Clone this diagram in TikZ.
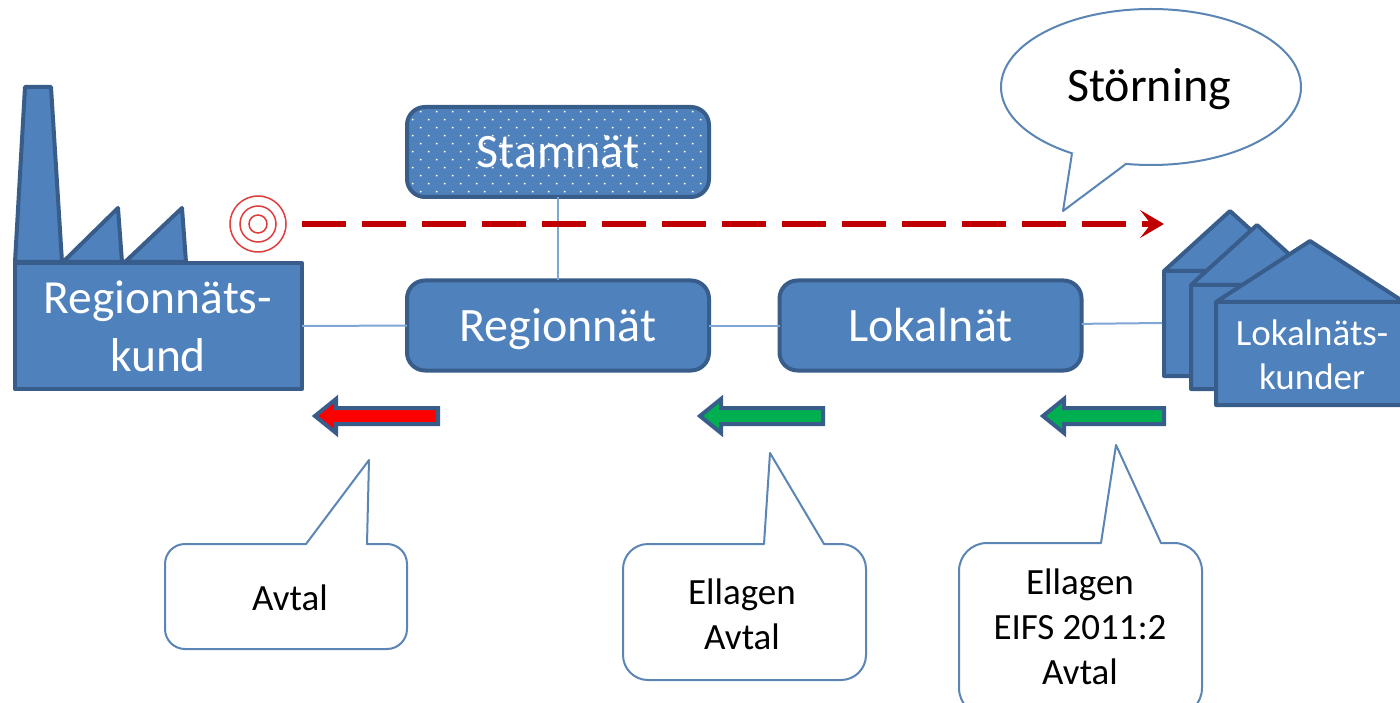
\documentclass[tikz,border=0pt]{standalone}
\usepackage{fontspec}
\usetikzlibrary{arrows.meta,shapes.geometric}
\setmainfont{Carlito}
\definecolor{netblue}{HTML}{4F81BD}
\definecolor{netedge}{HTML}{385D8A}
\definecolor{linkblue}{HTML}{7FA6D4}
\definecolor{noteline}{HTML}{5A85B4}
\definecolor{stormred}{HTML}{C00000}
\definecolor{ringred}{HTML}{E03C3C}
\definecolor{okgreen}{HTML}{00B050}
\begin{document}
\begin{tikzpicture}[x=1pt,y=-1pt,
  solid shape/.style={draw=netedge,fill=netblue,line width=4pt,line join=round},
  net node/.style={solid shape,rectangle,rounded corners=18pt,minimum width=302pt,minimum height=90pt,
    outer sep=0pt,text=white,text height=36pt,text depth=4pt,font=\fontsize{48}{58}\selectfont},
  customer/.style={text=white,align=center,inner sep=0pt,font=\fontsize{47.5}{58}\selectfont},
  note/.style={align=center,inner sep=0pt,font=\fontsize{37}{45}\selectfont},
  bubble/.style={draw=noteline,fill=white,line width=2pt,line join=round},
  link/.style={draw=linkblue,line width=2pt},
  ring/.style={circle,draw=ringred,line width=1.5pt,inner sep=0pt,outer sep=0pt}]

  \useasboundingbox (0,0) rectangle (1400,703);

  % factory
  \draw[solid shape] (15,262) -- (25,87) -- (51,87) -- (62,262) -- cycle;
  \draw[solid shape] (63,262) -- (118,208) -- (122,262) -- cycle;
  \draw[solid shape] (125,262) -- (182,208) -- (186,262) -- cycle;
  \node[solid shape,rectangle,minimum width=287pt,minimum height=126pt,outer sep=0pt] (kund) at (158.5,326) {};
  \node[customer] (kundtext) at (158,326) {Regionnäts-\\kund};

  % houses
  \foreach \l/\r/\t/\b/\ax/\ay in {1164/1296/271/376/1230/211,
    1191/1323/285/389/1257/225, 1216/1404/302/405/1310/241}
    \draw[solid shape] (\l,\t) -- (\ax,\ay) -- (\r,\t) -- (\r,\b) -- (\l,\b) -- cycle (\l,\t) -- (\r,\t);
  \node[customer,font=\fontsize{37}{44}\selectfont] (lokalkund) at (1312,355) {Lokalnäts-\\kunder};
  \coordinate (houseedge) at (1162,323);

  % grid
  \node[net node,path picture={
      \foreach \row in {0,...,10}
        \foreach \col in {0,...,19}
          \fill[white] ([shift={({5.7+8*mod(\row+1,2)+16*\col},{4.7+8*\row})}]path picture bounding box.north west) circle (1pt);
    }] (stamnat) at (558,152) {Stamnät};
  \node[net node] (regionnat) at (558,325.5) {Regionnät};
  \node[net node] (lokalnat) at (930.5,325.5) {Lokalnät};

  \draw[link] (stamnat) -- (regionnat);
  \draw[link] (kund) -- (regionnat);
  \draw[link] (regionnat) -- (lokalnat);
  \draw[link] (lokalnat) -- (houseedge);

  % target and disturbance
  \node[ring,minimum size=56pt] (target) at (258,224) {};
  \node[ring,minimum size=36pt] (targetmid) at (target) {};
  \node[ring,minimum size=18pt] (targetin) at (target) {};
  \coordinate (stormend) at (1164,224);
  \draw[draw=stormred,line width=5.5pt,dash pattern=on 44pt off 16pt,shorten <=16pt,
    -{Stealth[length=24pt,width=28pt,inset=11pt,fill=stormred]}] (target.east) -- (stormend);

  \node[ellipse,draw=noteline,fill=white,line width=2pt,minimum width=300pt,minimum height=156pt,
    inner sep=0pt,outer sep=0pt] (storm) at (1151,87) {};
  \coordinate (stormtip) at (1063,211);
  \fill[white] (storm.220) -- (stormtip) -- (storm.252) -- (1100,150) -- cycle;
  \draw[draw=noteline,line width=2pt,line join=round] (storm.220) -- (stormtip) -- (storm.252);
  \node[inner sep=0pt,font=\fontsize{48}{50}\selectfont] (stormtext) at (1149,89) {Störning};

  % arrows
  \foreach \tipx/\endx/\col [evaluate=\tipx as \backx using \tipx+21] in
    {315/438/red, 700/823/okgreen, 1043/1164/okgreen}
    \draw[draw=netedge,fill=\col,line width=4pt,line join=miter]
      (\tipx,416) -- (\backx,399) -- (\backx,408) -- (\endx,408) -- (\endx,424) -- (\backx,424) -- (\backx,433) -- cycle;

  % notes
  \draw[bubble] (306,544) -- (369,460) -- (367,544) [rounded corners=20pt] -- (407,544) -- (407,649) -- (165,649) -- (165,544) [sharp corners] -- cycle;
  \draw[bubble] (764,544) -- (770,453) -- (824,544) [rounded corners=25pt] -- (866,544) -- (866,680) -- (623,680) -- (623,544) [sharp corners] -- cycle;
  \draw[bubble] (1101,543) -- (1116,445) -- (1161,543) [rounded corners=28pt] -- (1202,543) -- (1202,716) -- (959,716) -- (959,543) [sharp corners] -- cycle;
  \node[note] (avtal) at (290,598) {Avtal};
  \node[note] (ellavtal) at (742,614) {Ellagen\\Avtal};
  \node[note] (eifs) at (1080,627) {Ellagen\\EIFS 2011:2\\Avtal};
\end{tikzpicture}
\end{document}
